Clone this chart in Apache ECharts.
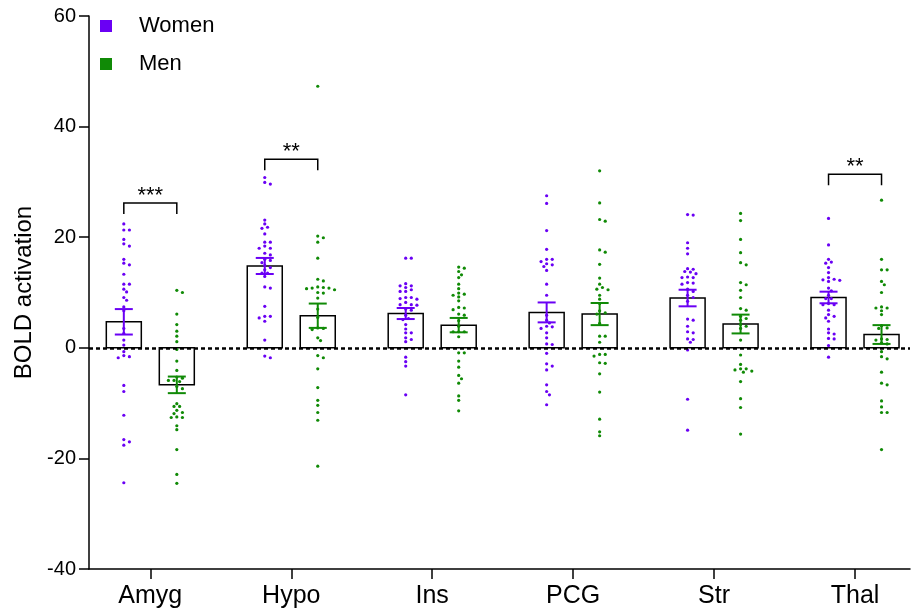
<!DOCTYPE html>
<html>
<head>
<meta charset="utf-8">
<script src="https://cdn.jsdelivr.net/npm/echarts@6/dist/echarts.min.js"></script>
<style>
  html, body { margin: 0; padding: 0; background: #fff; }
  #main { width: 912px; height: 612px; }
</style>
</head>
<body>
<div id="main"></div>
<script>
// regions on the x axis
const cats = ['Amyg', 'Hypo', 'Ins', 'PCG', 'Str', 'Thal'];

// group means and SEM (bar heights / error bars)
const womenMean = [4.7, 14.8, 6.2, 6.4, 9.0, 9.1];
const womenSem = [2.3, 1.45, 1.0, 1.8, 1.5, 1.05];
const menMean = [-6.7, 5.8, 4.1, 6.1, 4.3, 2.4];
const menSem = [1.5, 2.2, 1.3, 2.0, 1.7, 1.7];

// individual subjects, one list per region
const womenAmyg = [22.4, 21.3, 21.3, 19.6, 18.8, 18.4, 16.0, 15.3, 15.0, 13.3, 11.5, 11.5, 10.6, 10.1, 9.1, 8.6, 7.4, 6.7, 3.5, 2.6, 1.4, 0.5, -0.7, -1.4, -1.6, -1.8, -6.8, -7.9, -12.2, -16.6, -17.0, -17.6, -24.4];
const womenHypo = [30.8, 29.9, 29.6, 23.1, 22.4, 21.8, 21.6, 20.6, 19.1, 19.1, 18.4, 18.0, 18.0, 17.1, 16.8, 16.0, 15.8, 15.4, 14.9, 14.5, 14.1, 13.5, 13.5, 12.9, 11.0, 10.8, 7.5, 5.7, 5.7, 5.4, 4.8, 1.4, -1.5, -1.8];
const womenIns = [16.2, 16.2, 11.6, 11.2, 11.2, 10.9, 10.5, 10.2, 10.2, 9.1, 9.1, 8.9, 8.8, 8.2, 7.8, 7.8, 7.7, 7.0, 6.8, 5.9, 5.3, 5.1, 4.2, 3.4, 2.7, 2.7, 1.8, 1.5, 1.1, -1.7, -2.5, -3.3, -8.5];
const womenPCG = [27.5, 26.1, 21.2, 17.8, 16.0, 16.0, 15.6, 15.2, 15.0, 14.7, 14.0, 11.5, 9.5, 5.9, 5.0, 4.5, 3.9, 3.8, 3.5, 2.7, 1.8, 0.7, 0.6, -1.0, -2.9, -3.3, -4.0, -6.7, -7.9, -8.5, -10.3];
const womenStr = [24.1, 24.0, 19.0, 18.0, 17.0, 14.3, 14.2, 13.8, 13.7, 13.4, 12.8, 12.7, 12.7, 11.8, 11.7, 11.5, 10.6, 10.2, 9.5, 9.1, 8.4, 5.2, 5.0, 3.9, 2.9, 2.7, 1.6, 1.5, 1.0, -0.4, -9.3, -14.9];
const womenThal = [23.4, 18.6, 16.0, 15.5, 15.3, 14.5, 13.6, 12.7, 12.4, 12.3, 12.2, 12.0, 10.8, 10.3, 9.5, 8.9, 8.9, 8.0, 7.8, 7.8, 6.8, 6.0, 5.7, 5.4, 4.8, 3.4, 2.7, 2.5, 1.7, 1.6, 0.4, -1.7];

const menAmyg = [10.4, 10.0, 6.1, 4.2, 3.0, 2.1, 1.1, -0.3, -2.4, -4.1, -5.3, -5.5, -5.9, -5.9, -6.1, -7.0, -7.4, -10.1, -10.6, -10.6, -11.3, -11.7, -11.9, -12.5, -12.6, -12.6, -14.1, -14.8, -18.4, -22.9, -24.5];
const menHypo = [47.3, 20.2, 19.9, 19.1, 16.2, 12.4, 12.1, 11.0, 10.9, 10.8, 10.8, 10.7, 10.5, 10.0, 9.9, 9.0, 7.0, 5.5, 3.6, 3.5, 3.3, 1.8, 1.3, -1.4, -1.8, -3.8, -7.2, -9.5, -10.4, -11.7, -13.1, -21.4];
const menIns = [14.6, 14.4, 13.8, 13.2, 12.7, 11.5, 10.7, 9.9, 9.7, 9.5, 9.2, 8.5, 7.3, 7.2, 6.9, 6.1, 5.9, 4.9, 3.9, 2.9, 2.9, 2.9, 2.0, -0.9, -0.9, -2.4, -3.5, -5.0, -5.6, -6.4, -8.7, -9.5, -11.4];
const menPCG = [32.0, 26.2, 23.2, 22.9, 17.7, 17.3, 15.1, 12.6, 11.5, 10.9, 10.6, 10.5, 9.5, 8.8, 8.0, 6.7, 6.3, 6.1, 4.4, 2.1, 2.1, 1.0, -1.2, -1.2, -1.5, -2.7, -2.8, -4.7, -8.0, -12.9, -15.2, -15.9];
const menStr = [24.3, 23.0, 19.6, 17.2, 15.4, 15.0, 11.8, 11.4, 10.4, 9.1, 7.1, 6.8, 5.7, 5.3, 5.0, 4.2, 3.9, 3.5, 1.4, -1.3, -3.0, -3.8, -3.8, -4.0, -4.2, -4.4, -6.1, -9.2, -10.8, -15.6];
const menThal = [26.7, 16.0, 14.1, 14.1, 12.0, 11.4, 10.0, 7.4, 7.2, 7.2, 6.7, 6.0, 4.0, 3.6, 3.5, 1.6, 1.5, 1.4, 0.9, 0.7, -0.7, -1.6, -2.0, -4.4, -6.4, -6.7, -9.6, -10.7, -11.7, -11.7, -18.4];

const womenPts = [womenAmyg, womenHypo, womenIns, womenPCG, womenStr, womenThal];
const menPts = [menAmyg, menHypo, menIns, menPCG, menStr, menThal];

// significance brackets
const sigCats = [0, 1, 5];
const sigText = ['***', '**', '**'];
const sigY = [26.2, 34.1, 31.4];

const yTicks = [-40, -20, 0, 20, 40, 60];

const purple = '#6a00f4';
const green = '#108a06';
const font = '"Liberation Sans", Arial, Helvetica, sans-serif';

const xMin = -0.435, xMax = 5.39;
const gridL = 89, gridR = 2, gridT = 16, gridB = 43;
const shift = 0.188;   // half distance between the women / men bars
const barW = 35;

// simple beeswarm so dots at the same height spread sideways
const pxX = (912 - gridL - gridR) / (xMax - xMin);
const pxY = (612 - gridT - gridB) / (yTicks[yTicks.length - 1] - yTicks[0]);
function swarm(vals, center){
	let placed = [];
	let out = [];
	for(let v of vals){
		let py = v * pxY;
		let off = 0;
		for(let i = 0; i < 30; i++){
			let k = i == 0 ? 0 : (i % 2 ? 1 : -1) * Math.ceil(i / 2);
			let px = k * 2.8;
			let ok = placed.every(p => (p[0] - px) ** 2 + (p[1] - py) ** 2 >= 3.6 * 3.6);
			if(ok){ off = px; break; }
		}
		placed.push([off, py]);
		out.push([center + off / pxX, v]);
	}
	return out;
}

let womenDots = [];
let menDots = [];
for(let i = 0; i < cats.length; i++){
	womenDots = womenDots.concat(swarm(womenPts[i], i - shift));
	menDots = menDots.concat(swarm(menPts[i], i + shift));
}

const womenBars = cats.map((c, i) => [i - shift, womenMean[i], womenSem[i]]);
const menBars = cats.map((c, i) => [i + shift, menMean[i], menSem[i]]);
const sigData = sigCats.map((c, i) => [c, sigY[i], sigText[i]]);

function barItem(params, api){
	let x = api.value(0), m = api.value(1);
	let top = api.coord([x, m]);
	let base = api.coord([x, 0]);
	return {
		type: 'rect',
		shape: {x: top[0] - barW / 2, y: Math.min(top[1], base[1]), width: barW, height: Math.abs(base[1] - top[1])},
		style: {fill: '#fff', stroke: '#000', lineWidth: 1.5}
	};
}

function errItem(params, api){
	let x = api.value(0), m = api.value(1), s = api.value(2);
	let hi = api.coord([x, m + s]);
	let lo = api.coord([x, m - s]);
	let c = api.visual('color');
	let cw = 9;
	let st = {stroke: c, lineWidth: 2};
	return {
		type: 'group',
		children: [
			{type: 'line', shape: {x1: hi[0], y1: hi[1], x2: lo[0], y2: lo[1]}, style: st},
			{type: 'line', shape: {x1: hi[0] - cw, y1: hi[1], x2: hi[0] + cw, y2: hi[1]}, style: st},
			{type: 'line', shape: {x1: lo[0] - cw, y1: lo[1], x2: lo[0] + cw, y2: lo[1]}, style: st}
		]
	};
}

function sigItem(params, api){
	let x = api.value(0), y = api.value(1);
	let a = api.coord([x - shift, y]);
	let b = api.coord([x + shift, y]);
	let d = api.coord([x, y - 2])[1] - a[1];
	return {
		type: 'group',
		children: [
			{type: 'polyline', shape: {points: [[a[0], a[1] + d], a, b, [b[0], b[1] + d]]},
				style: {stroke: '#000', lineWidth: 1.5, fill: null}},
			{type: 'text', x: (a[0] + b[0]) / 2, y: a[1] + 4,
				style: {text: sigText[params.dataIndex], font: '22px ' + font, fill: '#000',
					align: 'center', verticalAlign: 'bottom'}}
		]
	};
}

var myChart = echarts.init(document.getElementById('main'));

var option = {
	animation: false,
	backgroundColor: '#fff',
	textStyle: {fontFamily: font},
	grid: {left: gridL, right: gridR, top: gridT, bottom: gridB},
	legend: {
		data: ['Women', 'Men'],
		orient: 'vertical',
		left: 95,
		top: 10,
		icon: 'rect',
		itemWidth: 12,
		itemHeight: 12,
		itemGap: 16,
		selectedMode: false,
		textStyle: {fontSize: 22, color: '#000', fontFamily: font, padding: [0, 0, 0, 22]}
	},
	xAxis: {
		type: 'value',
		min: xMin,
		max: xMax,
		splitLine: {show: false},
		axisLine: {show: true, onZero: false, lineStyle: {color: '#000', width: 1.5}},
		axisTick: {show: true, customValues: [0, 1, 2, 3, 4, 5], length: 10, lineStyle: {color: '#000', width: 1.5}},
		axisLabel: {customValues: [0, 1, 2, 3, 4, 5], formatter: v => cats[Math.round(v)],
			fontSize: 25, color: '#000', margin: 15, fontFamily: font}
	},
	yAxis: {
		type: 'value',
		min: -40,
		max: 60,
		interval: 20,
		name: 'BOLD activation',
		nameLocation: 'middle',
		nameGap: 48,
		nameTextStyle: {fontSize: 24, color: '#000', fontFamily: font},
		splitLine: {show: false},
		axisLine: {show: true, onZero: false, lineStyle: {color: '#000', width: 1.5}},
		axisTick: {show: true, length: 10, lineStyle: {color: '#000', width: 1.5}},
		axisLabel: {fontSize: 20, color: '#000', margin: 13, fontFamily: font}
	},
	series: [
		{
			name: 'womenBar', type: 'custom', renderItem: barItem, data: womenBars, z: 2,
			encode: {x: 0, y: 1}, silent: true
		},
		{
			name: 'menBar', type: 'custom', renderItem: barItem, data: menBars, z: 2,
			encode: {x: 0, y: 1}, silent: true
		},
		{
			name: 'zero', type: 'line', data: [], z: 3, silent: true,
			markLine: {
				silent: true, symbol: 'none', label: {show: false},
				lineStyle: {color: '#000', width: 2.5, type: [4, 3]},
				data: [{yAxis: 0}]
			}
		},
		{
			name: 'Women', type: 'scatter', data: womenDots, symbolSize: 3.2, z: 4,
			itemStyle: {color: purple, opacity: 1}
		},
		{
			name: 'Men', type: 'scatter', data: menDots, symbolSize: 3.2, z: 4,
			itemStyle: {color: green, opacity: 1}
		},
		{
			name: 'womenErr', type: 'custom', renderItem: errItem, data: womenBars, z: 5,
			itemStyle: {color: purple}, encode: {x: 0, y: 1}, silent: true
		},
		{
			name: 'menErr', type: 'custom', renderItem: errItem, data: menBars, z: 5,
			itemStyle: {color: green}, encode: {x: 0, y: 1}, silent: true
		},
		{
			name: 'sig', type: 'custom', renderItem: sigItem, data: sigData, z: 5,
			encode: {x: 0, y: 1}, silent: true
		}
	]
};
myChart.setOption(option);
</script>
</body>
</html>
